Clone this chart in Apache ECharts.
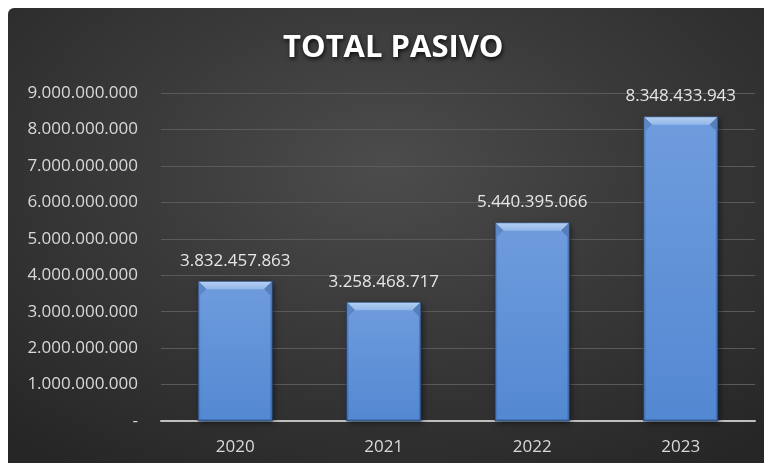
<!DOCTYPE html>
<html>
<head>
<meta charset="utf-8">
<script src="https://cdn.jsdelivr.net/npm/echarts@6/dist/echarts.min.js"></script>
<style>
  html, body { margin: 0; padding: 0; background: #ffffff; }
  #panel {
    position: absolute; left: 8px; top: 8px; width: 756px; height: 455px;
    border-top-left-radius: 6px;
    background: radial-gradient(ellipse 75% 80% at 50% 35%, #4c4c4c 0%, #3a3a3a 45%, #262626 100%);
  }
  #chart { position: absolute; left: 0; top: 0; width: 764px; height: 463px; }
</style>
</head>
<body>
<div id="panel"></div>
<div id="chart"></div>
<script>
// Total liabilities by year
const years = ['2020', '2021', '2022', '2023'];
const totalPasivo = [3832457863, 3258468717, 5440395066, 8348433943];
const yTicks = [0, 1000000000, 2000000000, 3000000000, 4000000000, 5000000000, 6000000000, 7000000000, 8000000000, 9000000000];

const fmt = v => v === 0 ? '-' : String(Math.round(v)).replace(/\B(?=(\d{3})+(?!\d))/g, '.');
const FONT = '"Open Sans", "Noto Sans", sans-serif';

const chart = echarts.init(document.getElementById('chart'));

// Bevel drawn over each bar: light top face, thin darker sides and bottom
function bevel(params, api) {
  const top = api.coord([api.value(0), api.value(1)]);
  const base = api.coord([api.value(0), 0]);
  const w = api.size([1, 0])[0] * 0.5;
  const x0 = top[0] - w / 2, x1 = top[0] + w / 2;
  const y0 = top[1], y1 = base[1];
  const b = 8, s = 2;
  return {
    type: 'group',
    children: [
      { type: 'polygon', shape: { points: [[x0, y0], [x1, y0], [x1 - b, y0 + b], [x0 + b, y0 + b]] },
        style: { fill: new echarts.graphic.LinearGradient(0, 0, 0, 1, [
          { offset: 0, color: '#b4d0f4' }, { offset: 1, color: '#93b7e8' }]) } },
      { type: 'polygon', shape: { points: [[x0, y0], [x0 + b, y0 + b], [x0 + s, y0 + b + 6], [x0 + s, y1 - s], [x0, y1]] },
        style: { fill: 'rgba(40,75,130,0.25)' } },
      { type: 'polygon', shape: { points: [[x1, y0], [x1 - b, y0 + b], [x1 - s, y0 + b + 6], [x1 - s, y1 - s], [x1, y1]] },
        style: { fill: 'rgba(30,60,110,0.3)' } },
      { type: 'polygon', shape: { points: [[x0, y1], [x0 + s, y1 - s], [x1 - s, y1 - s], [x1, y1]] },
        style: { fill: 'rgba(30,60,110,0.3)' } },
      { type: 'line', shape: { x1: x0, y1: y0, x2: x0 + b, y2: y0 + b },
        style: { stroke: 'rgba(60,100,160,0.5)', lineWidth: 1 } },
      { type: 'line', shape: { x1: x1, y1: y0, x2: x1 - b, y2: y0 + b },
        style: { stroke: 'rgba(60,100,160,0.5)', lineWidth: 1 } },
      { type: 'rect', shape: { x: x0, y: y0, width: w, height: y1 - y0 },
        style: { fill: 'none', stroke: 'rgba(30,55,95,0.7)', lineWidth: 1 } }
    ]
  };
}

chart.setOption({
  backgroundColor: 'transparent',
  title: {
    text: 'TOTAL PASIVO',
    left: 278,
    top: 28,
    textStyle: {
      color: '#ffffff', fontFamily: FONT, fontWeight: 'bold', fontSize: 31,
      textShadowColor: 'rgba(0,0,0,0.8)', textShadowBlur: 4, textShadowOffsetX: 1, textShadowOffsetY: 2
    }
  },
  grid: { left: 161, right: 9, top: 93, bottom: 42, containLabel: false },
  xAxis: {
    type: 'category',
    data: years,
    axisLine: { lineStyle: { color: '#bfbfbf', width: 2 } },
    axisTick: { show: false },
    axisLabel: { color: '#d9d9d9', fontFamily: FONT, fontSize: 17, margin: 18 }
  },
  yAxis: {
    type: 'value',
    min: yTicks[0],
    max: yTicks[yTicks.length - 1],
    interval: yTicks[1] - yTicks[0],
    axisLine: { show: false },
    axisTick: { show: false },
    splitLine: { lineStyle: { color: '#5a5a5a', width: 1 } },
    axisLabel: { color: '#d9d9d9', fontFamily: FONT, fontSize: 17, margin: 23, formatter: fmt }
  },
  series: [
    {
      type: 'bar',
      data: totalPasivo,
      barWidth: '50%',
      itemStyle: {
        color: new echarts.graphic.LinearGradient(0, 0, 0, 1, [
          { offset: 0, color: '#6f9cdd' },
          { offset: 1, color: '#5388d2' }
        ]),
        shadowColor: 'rgba(0,0,0,0.5)', shadowBlur: 6, shadowOffsetX: 2, shadowOffsetY: 2
      },
      label: {
        show: true, position: 'top', distance: 12,
        color: '#e6e6e6', fontFamily: FONT, fontSize: 17,
        formatter: p => fmt(p.value)
      },
      z: 2
    },
    {
      type: 'custom',
      data: years.map((y, i) => [i, totalPasivo[i]]),
      renderItem: bevel,
      silent: true,
      z: 3
    }
  ]
});
</script>
</body>
</html>
